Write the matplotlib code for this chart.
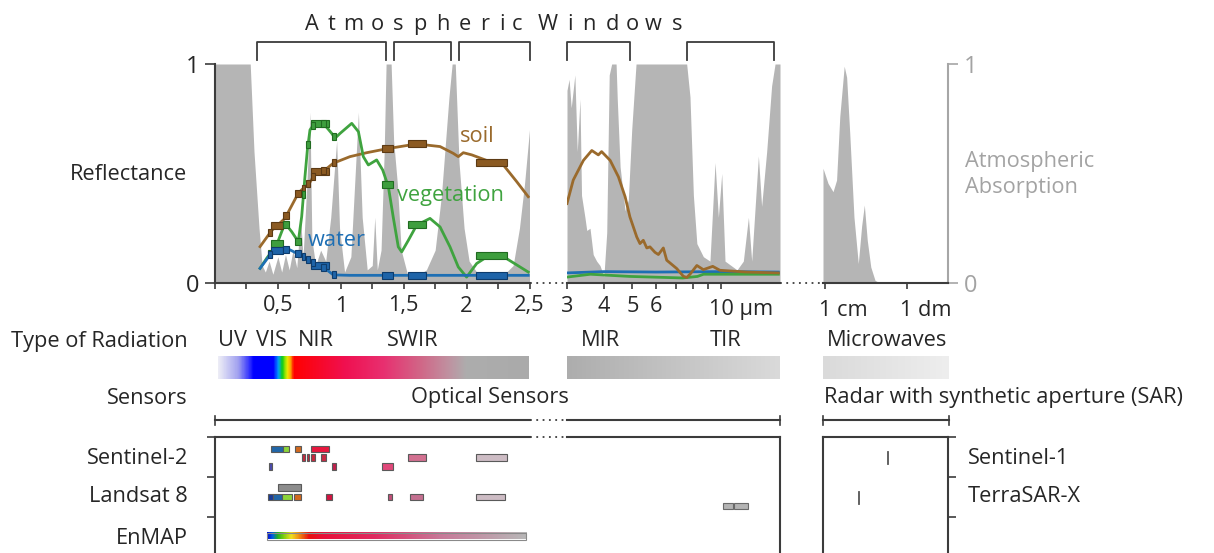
import numpy as np
import matplotlib
matplotlib.use("Agg")
import matplotlib.pyplot as plt
from matplotlib.colors import LinearSegmentedColormap
from matplotlib.patches import Rectangle
from matplotlib.ticker import NullLocator

plt.rcParams['font.family'] = ['Open Sans', 'DejaVu Sans']

W, H = 1214, 553
DARK = '#3c3c3c'
TXT = '#262626'
GREY_TXT = '#a3a3a3'
ABS_COLOR = '#b5b5b5'
FS = 15.7

# ---- atmospheric absorption (0..1) ----
ABS_OPT_UM = [0.0, 0.28, 0.31, 0.35, 0.375, 0.40, 0.43, 0.46, 0.50, 0.53, 0.56, 0.59, 0.62,
              0.65, 0.68, 0.70, 0.73, 0.755, 0.77, 0.80, 0.84, 0.88, 0.92, 0.967, 0.99, 1.03,
              1.08, 1.11, 1.14, 1.17, 1.21, 1.25, 1.27, 1.29, 1.32, 1.345, 1.36, 1.40, 1.42,
              1.45, 1.48, 1.53, 1.60, 1.68, 1.75, 1.80, 1.86, 1.885, 1.91, 1.94, 1.98, 2.02,
              2.08, 2.2, 2.3, 2.37, 2.42, 2.46, 2.5]
ABS_OPT = [1.0, 1.0, 0.6, 0.25, 0.08, 0.05, 0.10, 0.04, 0.12, 0.05, 0.13, 0.06, 0.15,
           0.07, 0.30, 0.12, 0.45, 0.78, 0.20, 0.08, 0.15, 0.10, 0.30, 0.65, 0.25, 0.05,
           0.12, 0.45, 0.78, 0.30, 0.06, 0.08, 0.30, 0.06, 0.15, 0.60, 1.0, 1.0, 0.65,
           0.45, 0.15, 0.04, 0.03, 0.06, 0.15, 0.40, 0.85, 1.0, 1.0, 0.55, 0.25, 0.10,
           0.05, 0.03, 0.04, 0.08, 0.25, 0.45, 0.70]

ABS_IR_UM = [3.0, 3.05, 3.1, 3.19, 3.25, 3.32, 3.36, 3.45, 3.50, 3.59, 3.68, 3.78, 3.88, 4.0,
             4.09, 4.17, 4.25, 4.40, 4.44, 4.54, 4.72, 4.84, 4.97, 5.14, 7.63, 7.83, 8.04,
             8.26, 8.69, 9.15, 9.52, 9.77, 10.03, 10.29, 11.3, 11.87, 12.35, 12.67, 13.35,
             13.69, 14.24, 14.8, 15.2, 15.8]
ABS_IR = [0.88, 0.93, 0.80, 0.95, 0.60, 0.84, 0.40, 0.30, 0.24, 0.25, 0.13, 0.10, 0.08, 0.03,
          0.23, 0.95, 1.0, 1.0, 0.84, 0.53, 0.33, 0.38, 0.70, 1.0, 1.0, 0.85, 0.40,
          0.18, 0.12, 0.10, 0.55, 0.30, 0.50, 0.10, 0.06, 0.10, 0.30, 0.10, 0.58,
          0.35, 0.60, 0.90, 1.0, 1.0]

ABS_MW_CM = [0.934, 1.077, 1.24, 1.37, 1.50, 1.70, 1.82, 1.99, 2.24, 2.53, 2.78, 3.0, 3.26,
             3.6, 4.06, 4.67, 32.3]
ABS_MW = [0.524, 0.455, 0.417, 0.47, 0.76, 0.99, 0.94, 0.68, 0.30, 0.089, 0.26, 0.356, 0.195,
          0.073, 0.012, 0.0, 0.0]

# ---- reflectance curves ----
SOIL_OPT_UM = [0.358, 0.451, 0.556, 0.662, 0.715, 0.755, 0.795, 0.835, 0.874, 0.940, 1.073,
               1.206, 1.365, 1.603, 1.789, 1.894, 1.934, 1.974, 2.041, 2.186, 2.292, 2.398, 2.49]
SOIL_OPT = [0.166, 0.24, 0.295, 0.41, 0.44, 0.46, 0.50, 0.51, 0.516, 0.547, 0.577,
            0.595, 0.613, 0.635, 0.623, 0.592, 0.577, 0.595, 0.585, 0.554, 0.539, 0.463, 0.394]

VEG_OPT_UM = [0.358, 0.411, 0.490, 0.556, 0.610, 0.662, 0.689, 0.715, 0.734, 0.755, 0.782,
              0.861, 0.928, 0.954, 0.994, 1.087, 1.14, 1.179, 1.219, 1.285, 1.333, 1.378,
              1.417, 1.457, 1.484, 1.537, 1.603, 1.709, 1.789, 1.868, 1.934, 2.0, 2.08,
              2.16, 2.24, 2.319, 2.49]
VEG_OPT = [0.067, 0.113, 0.174, 0.273, 0.234, 0.189, 0.303, 0.485, 0.607, 0.699, 0.721,
           0.729, 0.683, 0.661, 0.683, 0.729, 0.691, 0.577, 0.539, 0.562, 0.516, 0.44,
           0.30, 0.165, 0.142, 0.195, 0.264, 0.295, 0.256, 0.165, 0.073, 0.027, 0.089,
           0.119, 0.131, 0.111, 0.05]

WATER_OPT_UM = [0.358, 0.437, 0.517, 0.583, 0.649, 0.729, 0.795, 0.874, 0.94, 1.07, 2.49]
WATER_OPT = [0.067, 0.128, 0.155, 0.155, 0.136, 0.113, 0.089, 0.067, 0.037, 0.035, 0.035]

SOIL_IR_UM = [3.0, 3.15, 3.41, 3.64, 3.83, 3.93, 4.2, 4.48, 4.72, 4.9, 5.17, 5.30, 5.44, 5.59,
              5.73, 5.96, 6.12, 6.36, 6.53, 7.06, 7.43, 7.63, 7.83, 8.26, 8.69, 9.35, 9.89,
              12.2, 15.6]
SOIL_IR = [0.363, 0.47, 0.56, 0.605, 0.585, 0.60, 0.56, 0.485, 0.394, 0.302, 0.21, 0.18, 0.195,
           0.16, 0.165, 0.14, 0.13, 0.16, 0.104, 0.066, 0.031, 0.025, 0.04, 0.08, 0.061, 0.076,
           0.058, 0.05, 0.046]
VEG_IR_UM = [3.0, 3.6, 4.9, 7.4, 8.3, 8.7, 15.6]
VEG_IR = [0.027, 0.04, 0.03, 0.023, 0.03, 0.04, 0.04]
WATER_IR_UM = [3.0, 4.0, 6.0, 10.0, 15.6]
WATER_IR = [0.046, 0.052, 0.05, 0.052, 0.05]

# ---- atmospheric windows (brackets) ----
WINDOWS_OPT = [(0.33, 1.357), (1.425, 1.874), (1.942, 2.5)]
WINDOWS_IR = [(3.0, 4.9), (7.63, 15.1)]

# ---- sensor bands ----
S2_LO = [0.443, 0.543, 0.638, 0.761, 0.692, 0.729, 0.766, 0.845, 1.537, 2.075, 0.427, 0.930, 1.330]
S2_HI = [0.543, 0.591, 0.684, 0.909, 0.715, 0.750, 0.793, 0.882, 1.677, 2.319, 0.453, 0.959, 1.413]
S2_ROW = [0, 0, 0, 0, 1, 1, 1, 1, 1, 1, 2, 2, 2]
S2_COL = ['#2166a8', '#8cd43a', '#d2691e', '#e8173e', '#c8283e', '#c8283e', '#c8283e', '#c82a44',
          '#d27090', '#cdbcc4', '#4b4baf', '#c0204c', '#e0487a']

L8_LO = [0.503, 0.421, 0.459, 0.530, 0.628, 0.882, 1.373, 1.550, 2.075]
L8_HI = [0.684, 0.459, 0.530, 0.614, 0.686, 0.930, 1.409, 1.651, 2.305]
L8_ROW = [0, 1, 1, 1, 1, 1, 1, 1, 1]
L8_COL = ['#8c8c8c', '#1a3c96', '#2166a8', '#8cd43a', '#d2691e', '#d21440', '#c05078', '#c47090',
          '#cdbcc4']
TIRS_LO = [10.15, 11.06]
TIRS_HI = [10.92, 12.28]
ENMAP_RANGE = (0.411, 2.476)

SAR_NAMES = ['Sentinel-1', 'TerraSAR-X']
SAR_CM = [5.93, 2.6]

# gradient colours
RAD_NODES = [0.024, 0.18, 0.27, 0.30, 0.46, 0.50, 0.53, 0.57, 0.60, 0.62, 1.03, 1.34, 1.64,
             1.85, 2.0, 2.49]
RAD_COLS = ['#ececf6', '#a0a0f0', '#3030ff', '#0000ff', '#0000ff', '#00a0ff', '#10d010', '#f0f000',
            '#ff9000', '#ff0000', '#f01050', '#e83070', '#d06888', '#c090a0', '#adadad', '#aaaaaa']
ENMAP_NODES = [0.411, 0.45, 0.49, 0.54, 0.60, 0.67, 0.74, 0.86, 1.26, 1.79, 2.476]
ENMAP_COLS = ['#0010d0', '#0060e0', '#20b020', '#80d010', '#f0e020', '#f08010', '#e81010',
              '#e8103a', '#e02a60', '#c87898', '#b8b8b8']

SOIL_C, VEG_C, WATER_C = '#9a6a2c', '#3fa33f', '#1e6fb4'
MARK = {'soil': ('#8b5a22', '#5c3a14'), 'veg': ('#3e9e3e', '#216b21'),
        'water': ('#1e64a8', '#0e3c6c')}

fig = plt.figure(figsize=(W / 100, H / 100), dpi=100)


def px_axes(x0, y0, x1, y1):
    return fig.add_axes([x0 / W, 1 - y1 / H, (x1 - x0) / W, (y1 - y0) / H])


def grad_image(ax, x0, x1, y0, y1, nodes, cols):
    nn = [(n - nodes[0]) / (nodes[-1] - nodes[0]) for n in nodes]
    cmap = LinearSegmentedColormap.from_list('g', list(zip(nn, cols)))
    ax.imshow(np.linspace(0, 1, 600)[None, :], cmap=cmap, extent=(x0, x1, y0, y1),
              aspect='auto', interpolation='bilinear')


# overlay in pixel coordinates, drawn above everything
ov = fig.add_axes([0, 0, 1, 1])
ov.set_xlim(0, W)
ov.set_ylim(H, 0)
ov.axis('off')
ov.patch.set_alpha(0)
ov.set_zorder(10)

# ---------------- upper panels ----------------
ax1 = px_axes(215, 64, 529.5, 283)
ax2 = px_axes(567, 64, 780, 283)
ax3 = px_axes(823, 64, 948.5, 283)
for ax in (ax1, ax2, ax3):
    ax.set_ylim(0, 1)
    ax.patch.set_alpha(0)
    for s in ax.spines.values():
        s.set_visible(False)
    ax.spines['bottom'].set_visible(True)
    ax.spines['bottom'].set_color(DARK)
    ax.spines['bottom'].set_linewidth(1.5)
    ax.tick_params(axis='x', direction='out', length=4, width=1.2, color=DARK,
                   labelsize=FS, labelcolor=TXT, pad=5)
    ax.set_yticks([])

ax1.set_xlim(0, 2.5)
ax2.set_xscale('log')
ax2.set_xlim(3, 15.8)
ax3.set_xscale('log')
ax3.set_xlim(0.934, 32.3)

ax1.fill_between(ABS_OPT_UM, 0, ABS_OPT, color=ABS_COLOR, lw=0, zorder=1)
ax2.fill_between(ABS_IR_UM, 0, ABS_IR, color=ABS_COLOR, lw=0, zorder=1)
ax3.fill_between(ABS_MW_CM, 0, ABS_MW, color=ABS_COLOR, lw=0, zorder=1)

for ax, curves in ((ax1, [(SOIL_OPT_UM, SOIL_OPT, SOIL_C), (VEG_OPT_UM, VEG_OPT, VEG_C),
                          (WATER_OPT_UM, WATER_OPT, WATER_C)]),
                   (ax2, [(WATER_IR_UM, WATER_IR, WATER_C), (VEG_IR_UM, VEG_IR, VEG_C),
                          (SOIL_IR_UM, SOIL_IR, SOIL_C)])):
    for xs, ys, c in curves:
        ax.plot(xs, ys, color=c, lw=2.0, zorder=3, solid_joinstyle='round')

# Sentinel-2 band markers on the curves
for key, xs, ys in (('soil', SOIL_OPT_UM, SOIL_OPT), ('veg', VEG_OPT_UM, VEG_OPT),
                    ('water', WATER_OPT_UM, WATER_OPT)):
    fc, ec = MARK[key]
    for lo, hi in zip(S2_LO, S2_HI):
        c = (lo + hi) / 2
        w = max(hi - lo, 0.03)
        y = np.interp(c, xs, ys)
        ax1.add_patch(Rectangle((c - w / 2, y - 0.016), w, 0.032, fc=fc, ec=ec, lw=0.8, zorder=4))

# ticks
ax1.spines['left'].set_visible(True)
ax1.spines['left'].set_color(DARK)
ax1.spines['left'].set_linewidth(1.5)
ax1.set_yticks([0, 1])
ax1.set_yticklabels(['0', '1'])
ax1.tick_params(axis='y', direction='out', length=7, width=1.2, color=DARK, labelsize=17,
                labelcolor=TXT, pad=4)
xt = np.arange(0, 2.51, 0.25)
ax1.set_xticks(xt)
ax1.set_xticklabels(['' if abs(v * 2 - round(v * 2)) > 1e-6 else ('%g' % v).replace('.', ',')
                     for v in xt])
ax1.get_xticklabels()[0].set_visible(False)

ax2.set_xticks([3, 4, 5, 6, 7, 8, 9, 10])
ax2.set_xticklabels(['3', '4', '5', '6', '', '', '', ''])
ax2.xaxis.set_minor_locator(NullLocator())
ax3.set_xticks([1, 10])
ax3.set_xticklabels(['', ''])
ax3.xaxis.set_minor_locator(NullLocator())
ax3.spines['right'].set_visible(True)
ax3.spines['right'].set_color('#a6a6a6')
ax3.spines['right'].set_linewidth(1.5)
ax3.yaxis.tick_right()
ax3.set_yticks([0, 1])
ax3.set_yticklabels(['0', '1'])
ax3.tick_params(axis='y', direction='out', length=7, width=1.2, color='#a6a6a6', labelsize=17,
                labelcolor=GREY_TXT, pad=4, right=True, left=False)

ov.text(709, 310, '10 µm', fontsize=FS, color=TXT, ha='left', va='center')
ov.text(819, 310, '1 cm', fontsize=FS, color=TXT, ha='left', va='center')
ov.text(900, 310, '1 dm', fontsize=FS, color=TXT, ha='left', va='center')

# dotted gaps on the baseline
for a, b in ((529.5, 567), (780, 823)):
    ov.plot([a, b], [283, 283], color=DARK, lw=1.3, ls=(0, (1, 2.5)))

# window brackets
for ax, wins in ((ax1, WINDOWS_OPT), (ax2, WINDOWS_IR)):
    for lo, hi in wins:
        ax.plot([lo, lo, hi, hi], [1.018, 1.1, 1.1, 1.018], color=DARK, lw=1.3, clip_on=False)

title = 'AtmosphericWindows'
cx = [312, 332, 353, 377, 398, 420, 443, 465, 485, 502, 517, 548, 570, 589, 612, 632, 653, 677]
for ch, x in zip(title, cx):
    ov.text(x, 30, ch, fontsize=FS, color=TXT, ha='center', va='baseline')

ov.text(129, 174, 'Reflectance', fontsize=FS, color=TXT, ha='center', va='center')
ov.text(965, 162, 'Atmospheric', fontsize=FS, color=GREY_TXT, ha='left', va='center')
ov.text(965, 187, 'Absorption', fontsize=FS, color=GREY_TXT, ha='left', va='center')
ov.text(477, 136, 'soil', fontsize=FS, color=SOIL_C, ha='center', va='center')
ov.text(450, 195, 'vegetation', fontsize=FS, color=VEG_C, ha='center', va='center')
ov.text(337, 241, 'water', fontsize=FS, color=WATER_C, ha='center', va='center')

# ---------------- radiation types ----------------
ov.text(188, 341, 'Type of Radiation', fontsize=FS, color=TXT, ha='right', va='center')
for lab, x in (('UV', 232), ('VIS', 272), ('NIR', 316), ('SWIR', 413), ('MIR', 600),
               ('TIR', 726), ('Microwaves', 887)):
    ov.text(x, 341, lab, fontsize=FS, color=TXT, ha='center', va='center')

bar1 = px_axes(215, 356, 529.5, 379)
grad_image(bar1, RAD_NODES[0], RAD_NODES[-1], 0, 1, RAD_NODES, RAD_COLS)
bar1.set_xlim(0, 2.5)
bar1.set_ylim(0, 1)
bar1.axis('off')

bar2 = px_axes(567, 356, 780, 379)
grad_image(bar2, 0, 1, 0, 1, [0, 1], ['#adadad', '#dadada'])
bar2.set_xlim(0, 1)
bar2.axis('off')
bar3 = px_axes(823, 356, 948.5, 379)
grad_image(bar3, 0, 1, 0, 1, [0, 1], ['#dadada', '#eeeeee'])
bar3.set_xlim(0, 1)
bar3.axis('off')

# ---------------- sensors ----------------
ov.text(188, 398, 'Sensors', fontsize=FS, color=TXT, ha='right', va='center')
ov.text(490, 398, 'Optical Sensors', fontsize=FS, color=TXT, ha='center', va='center')
ov.text(824, 398, 'Radar with synthetic aperture (SAR)', fontsize=FS, color=TXT,
        ha='left', va='center')

for a, b in ((215, 529.5), (567, 780), (823, 948.5)):
    ov.plot([a, b], [420, 420], color=DARK, lw=1.5)
for x in (215, 780, 823, 948.5):
    ov.plot([x, x], [415.5, 424.5], color=DARK, lw=1.2)
ov.plot([529.5, 567], [420, 420], color=DARK, lw=1.3, ls=(0, (1, 2.5)))
ov.plot([529.5, 567], [437, 437], color=DARK, lw=1.3, ls=(0, (1, 2.5)))

lo1 = px_axes(215, 437, 529.5, 553)
lo2 = px_axes(567, 437, 780, 553)
lo3 = px_axes(823, 437, 948.5, 553)
for ax in (lo1, lo2, lo3):
    ax.set_ylim(553, 437)
    ax.patch.set_alpha(0)
    for s in ax.spines.values():
        s.set_color(DARK)
        s.set_linewidth(1.5)
    ax.spines['bottom'].set_visible(False)
lo1.set_xlim(0, 2.5)
lo1.set_xticks([])
lo1.spines['right'].set_visible(False)
lo1.set_yticks([437, 477, 517])
lo1.set_yticklabels([])
lo1.tick_params(axis='y', direction='out', length=6, width=1.2, color=DARK)
lo2.set_xscale('log')
lo2.set_xlim(3, 15.8)
lo2.set_xticks([])
lo2.xaxis.set_minor_locator(NullLocator())
lo2.spines['left'].set_visible(False)
lo2.set_yticks([])
lo3.set_xscale('log')
lo3.set_xlim(0.934, 32.3)
lo3.set_xticks([])
lo3.xaxis.set_minor_locator(NullLocator())
lo3.yaxis.tick_right()
lo3.set_yticks([437, 477, 517])
lo3.set_yticklabels([])
lo3.tick_params(axis='y', direction='out', length=6, width=1.2, color=DARK, right=True, left=False)

S2_Y = [449, 457.6, 466.6]
L8_Y = [487.6, 497]
BH = 6.5
for lo, hi, r, c in zip(S2_LO, S2_HI, S2_ROW, S2_COL):
    lo1.add_patch(Rectangle((lo, S2_Y[r] - BH / 2), hi - lo, BH, fc=c, ec='#5a5a5a', lw=0.8))
for lo, hi, r, c in zip(L8_LO, L8_HI, L8_ROW, L8_COL):
    lo1.add_patch(Rectangle((lo, L8_Y[r] - BH / 2), hi - lo, BH, fc=c, ec='#5a5a5a', lw=0.8))
for lo, hi in zip(TIRS_LO, TIRS_HI):
    lo2.add_patch(Rectangle((lo, 505.8 - BH / 2), hi - lo, BH, fc='#b4b4b4', ec='#6a6a6a', lw=0.8))

grad_image(lo1, ENMAP_RANGE[0], ENMAP_RANGE[1], 539.5, 533, ENMAP_NODES, ENMAP_COLS)
lo1.add_patch(Rectangle((ENMAP_RANGE[0], 533), ENMAP_RANGE[1] - ENMAP_RANGE[0], 6.5,
                        fc='none', ec='#8a8a8a', lw=0.8))
lo1.set_xlim(0, 2.5)
lo1.set_ylim(553, 437)

for cm, (ya, yb) in zip(SAR_CM, ((451.5, 463.5), (491.5, 503.5))):
    lo3.plot([cm, cm], [ya, yb], color='#555555', lw=1.3)

for lab, y in (('Sentinel-2', 458), ('Landsat 8', 497), ('EnMAP', 538)):
    ov.text(188, y, lab, fontsize=FS, color=TXT, ha='right', va='center')
for lab, y in zip(SAR_NAMES, (458, 497)):
    ov.text(968, y, lab, fontsize=FS, color=TXT, ha='left', va='center')

fig.savefig('out.png', dpi=100)
